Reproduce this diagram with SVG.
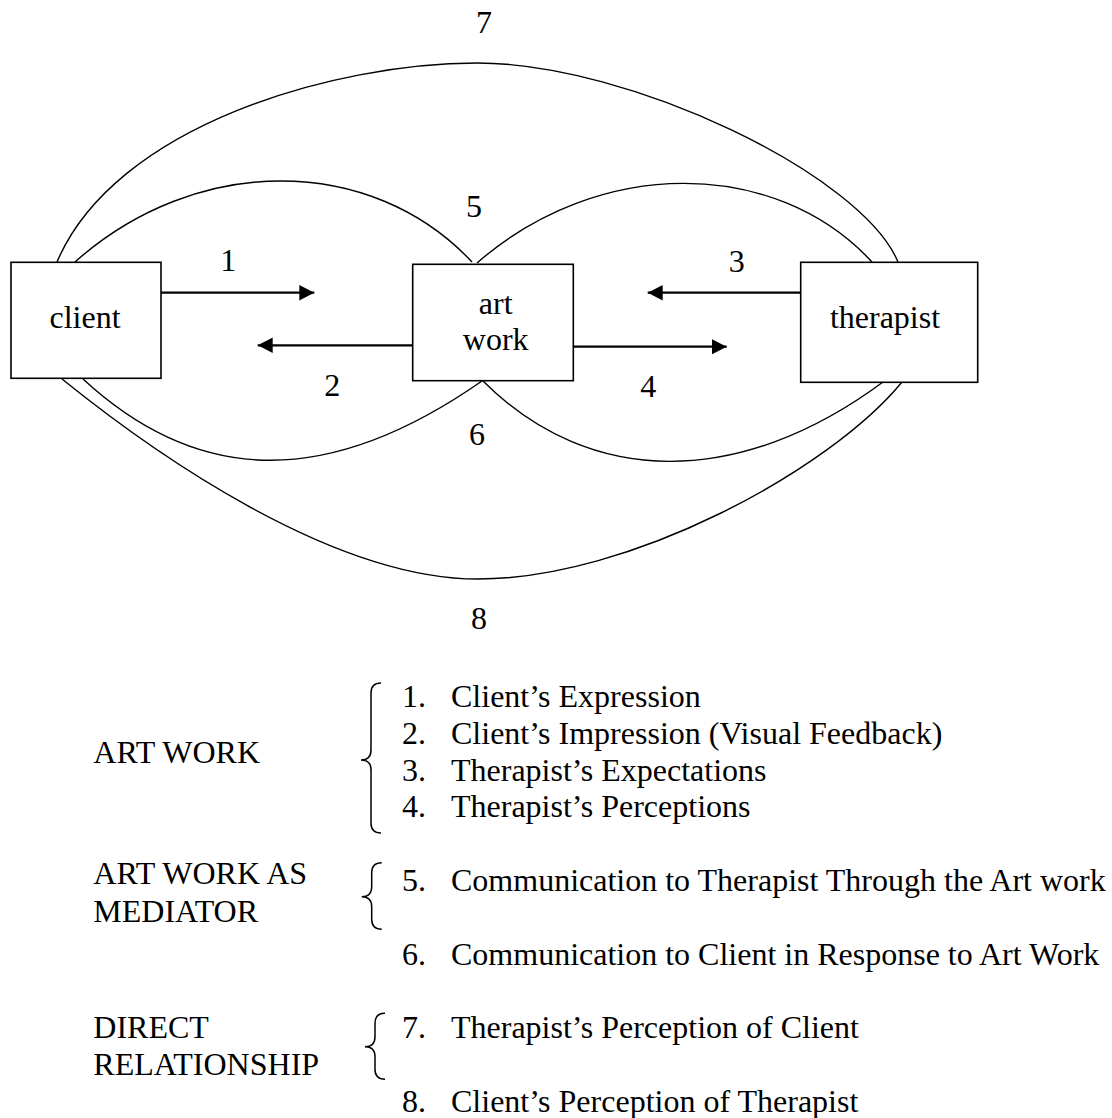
<svg xmlns="http://www.w3.org/2000/svg" width="1112" height="1118" viewBox="0 0 1112 1118">
<style>
  .box { fill: #ffffff; stroke: #000000; stroke-width: 1.6; }
  .arc { fill: none; stroke: #000000; stroke-width: 1.4; }
  .arrow { fill: none; stroke: #000000; stroke-width: 2.2; marker-end: url(#head); }
  .brace { fill: none; stroke: #000000; stroke-width: 1.5; }
  text { font-family: "Liberation Serif", "Times New Roman", serif; font-size: 32px; fill: #000000; }
  .mid { text-anchor: middle; }
</style>
<defs>
  <marker id="head" markerUnits="userSpaceOnUse" markerWidth="16" markerHeight="16" viewBox="0 0 16 16" refX="15" refY="8" orient="auto">
    <path d="M0,0.3 L15,8 L0,15.7 z" fill="#000000"/>
  </marker>
</defs>
<rect width="1112" height="1118" fill="#ffffff"/>

<g id="connectors">
  <!-- 7: outer top arc client-therapist -->
  <path class="arc" d="M57,262 C115,125 335,63 477,63 C630,63 862,175 898,262"/>
  <!-- 5: client-artwork upper, artwork-therapist upper -->
  <path class="arc" d="M75,262 C196,154 371,154 472,262"/>
  <path class="arc" d="M477,263 C598,157 775,157 872,262"/>
  <!-- 6: lower inner arcs -->
  <path class="arc" d="M83,379 C200,487 330,487 482,381"/>
  <path class="arc" d="M483,381 C590,488 740,488 883,382"/>
  <!-- 8: outer bottom arc -->
  <path class="arc" d="M62,379 C150,450 330,579 478,579 C630,579 830,470 902,382"/>
  <!-- arrows -->
  <line class="arrow" x1="161" y1="292.7" x2="314.3" y2="292.7"/>
  <line class="arrow" x1="412.7" y1="345.3" x2="257.7" y2="345.3"/>
  <line class="arrow" x1="800.7" y1="292.7" x2="647.7" y2="292.7"/>
  <line class="arrow" x1="573.3" y1="346.7" x2="726.7" y2="346.7"/>
</g>

<g id="client">
  <rect class="box" x="11" y="262.3" width="150" height="116"/>
  <text class="mid" x="85" y="328.3">client</text>
</g>

<g id="artwork">
  <rect class="box" x="412.7" y="264.3" width="160.6" height="116.4"/>
  <text class="mid" x="495.7" y="314">art</text>
  <text class="mid" x="495.7" y="350">work</text>
</g>

<g id="therapist">
  <rect class="box" x="800.7" y="262.3" width="177" height="120"/>
  <text class="mid" x="885" y="328.3">therapist</text>
</g>

<g id="edge-labels">
  <text class="mid" x="484" y="33">7</text>
  <text class="mid" x="474" y="217">5</text>
  <text class="mid" x="228.3" y="271">1</text>
  <text class="mid" x="736.7" y="271.7">3</text>
  <text class="mid" x="332.3" y="396">2</text>
  <text class="mid" x="648.3" y="397">4</text>
  <text class="mid" x="477" y="445">6</text>
  <text class="mid" x="479" y="629">8</text>
</g>

<g id="legend">
  <text x="93.3" y="762.7">ART WORK</text>
  <path class="brace" d="M381,683 Q371,683 371,693 L371,750 Q371,760 361,760 Q371,760 371,770 L371,823 Q371,833 381,833"/>
  <text x="402" y="707">1.</text><text x="451" y="707">Client’s Expression</text>
  <text x="402" y="743.8">2.</text><text x="451" y="743.8">Client’s Impression (Visual Feedback)</text>
  <text x="402" y="780.6">3.</text><text x="451" y="780.6">Therapist’s Expectations</text>
  <text x="402" y="817.4">4.</text><text x="451" y="817.4">Therapist’s Perceptions</text>

  <text x="93.3" y="884">ART WORK AS</text>
  <text x="93.3" y="921.7">MEDIATOR</text>
  <path class="brace" d="M381.7,862.7 Q371.7,862.7 371.7,872.7 L371.7,886.7 Q371.7,896.7 361.7,896.7 Q371.7,896.7 371.7,906.7 L371.7,919.3 Q371.7,929.3 381.7,929.3"/>
  <text x="402" y="891">5.</text><text x="451" y="891">Communication to Therapist Through the Art work</text>
  <text x="402" y="964.6">6.</text><text x="451" y="964.6">Communication to Client in Response to Art Work</text>

  <text x="93.3" y="1038.3">DIRECT</text>
  <text x="93.3" y="1075">RELATIONSHIP</text>
  <path class="brace" d="M385,1013.3 Q375,1013.3 375,1023.3 L375,1036.7 Q375,1046.7 365,1046.7 Q375,1046.7 375,1056.7 L375,1069.3 Q375,1079.3 385,1079.3"/>
  <text x="402" y="1038.2">7.</text><text x="451" y="1038.2">Therapist’s Perception of Client</text>
  <text x="402" y="1111.8">8.</text><text x="451" y="1111.8">Client’s Perception of Therapist</text>
</g>
</svg>
